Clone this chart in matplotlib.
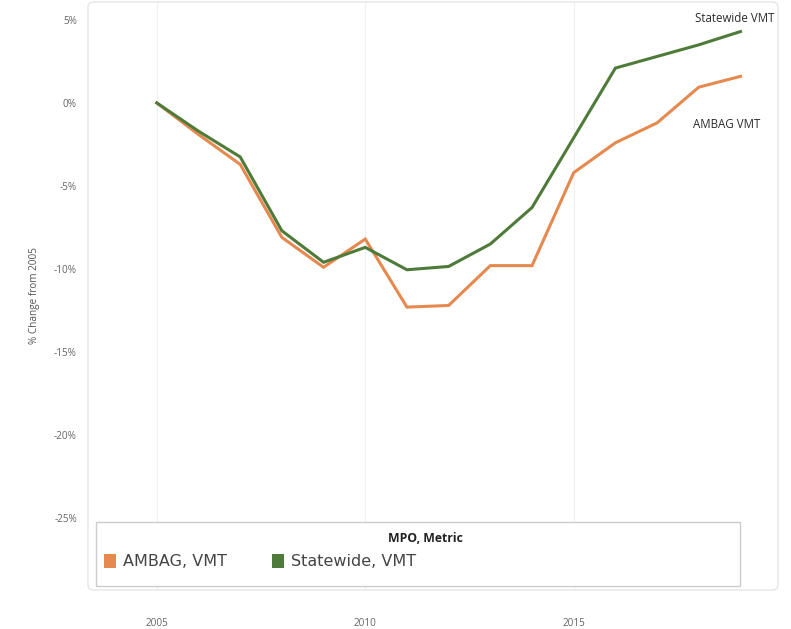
import matplotlib
matplotlib.use("Agg")
import matplotlib.pyplot as plt
from matplotlib.patches import FancyBboxPatch, Rectangle

plt.rcParams['font.family'] = ['Open Sans', 'DejaVu Sans']

years = list(range(2005, 2020))
ambag = [0.0, -1.9, -3.7, -8.1, -9.9, -8.2, -12.3, -12.2, -9.8, -9.8, -4.2, -2.4, -1.2, 0.95, 1.6]
statewide = [0.0, -1.7, -3.25, -7.7, -9.6, -8.7, -10.05, -9.85, -8.5, -6.3, -2.1, 2.1, 2.8, 3.5, 4.3]
series_names = ["AMBAG, VMT", "Statewide, VMT"]
end_labels = ["AMBAG VMT", "Statewide VMT"]
legend_title = "MPO, Metric"
x_ticks = [2005, 2010, 2015]
y_ticks = [5, 0, -5, -10, -15, -20, -25]
y_label = "% Change from 2005"

c_orange = '#E5894F'
c_green = '#4E7A3A'

W, H = 791, 629
fig = plt.figure(figsize=(W / 100, H / 100), dpi=100)

def fx(x):
    return x / W

def fy(y):
    return 1 - y / H

# axes placed to match panel: x 88..778 px, y 2..590 px
ax = fig.add_axes([fx(88), fy(590), (778 - 88) / W, (590 - 2) / H])
ax.set_xlim(2003.35, 2019.9)
ax.set_ylim(-29.34, 6.08)
for s in ax.spines.values():
    s.set_visible(False)
ax.set_facecolor('none')

# panel frame
frame = FancyBboxPatch((fx(88), fy(590)), (778 - 88) / W, (590 - 2) / H,
                       boxstyle="round,pad=0,rounding_size=0.008",
                       transform=fig.transFigure, fill=False,
                       edgecolor='#e6e6e6', linewidth=1.0, zorder=0)
fig.patches.append(frame)

for xt in x_ticks:
    ax.axvline(xt, color='#f0f0f0', lw=0.9, zorder=0)

ax.plot(years, ambag, color=c_orange, lw=2.2, solid_joinstyle='miter', zorder=3)
ax.plot(years, statewide, color=c_green, lw=2.2, solid_joinstyle='miter', zorder=4)

ax.text(2018.86, 5.06, end_labels[1], fontsize=8.3, color='#2b2b2b', ha='center', va='center')
ax.text(2018.67, -1.27, end_labels[0], fontsize=8.3, color='#2b2b2b', ha='center', va='center')

ax.set_xticks(x_ticks)
ax.set_xticklabels([str(x) for x in x_ticks])
ax.set_yticks(y_ticks)
ax.set_yticklabels([f"{v}%" for v in y_ticks])
ax.tick_params(axis='both', length=0, labelsize=7.2, labelcolor='#666666')
ax.tick_params(axis='y', pad=8)
ax.tick_params(axis='x', pad=20)
ax.set_ylabel(y_label, fontsize=7.2, color='#555555', labelpad=10)

# legend
leg_box = Rectangle((fx(96), fy(586)), (740 - 96) / W, (586 - 522) / H,
                    transform=fig.transFigure, facecolor='white',
                    edgecolor='#cccccc', linewidth=1.0, zorder=5)
fig.patches.append(leg_box)
fig.text(fx(425), fy(538), legend_title, fontsize=8.8, fontweight='bold',
         color='#222222', ha='center', va='center', zorder=6)
entries = [(104, c_orange, series_names[0]), (272, c_green, series_names[1])]
for x0, col, name in entries:
    fig.patches.append(Rectangle((fx(x0), fy(568)), 12 / W, 14 / H,
                                 transform=fig.transFigure, facecolor=col,
                                 edgecolor='none', zorder=6))
    fig.text(fx(x0 + 19), fy(561), name, fontsize=11.5, color='#444444',
             family=['DejaVu Sans'], ha='left', va='center', zorder=6)

fig.savefig('out.png', dpi=100)
